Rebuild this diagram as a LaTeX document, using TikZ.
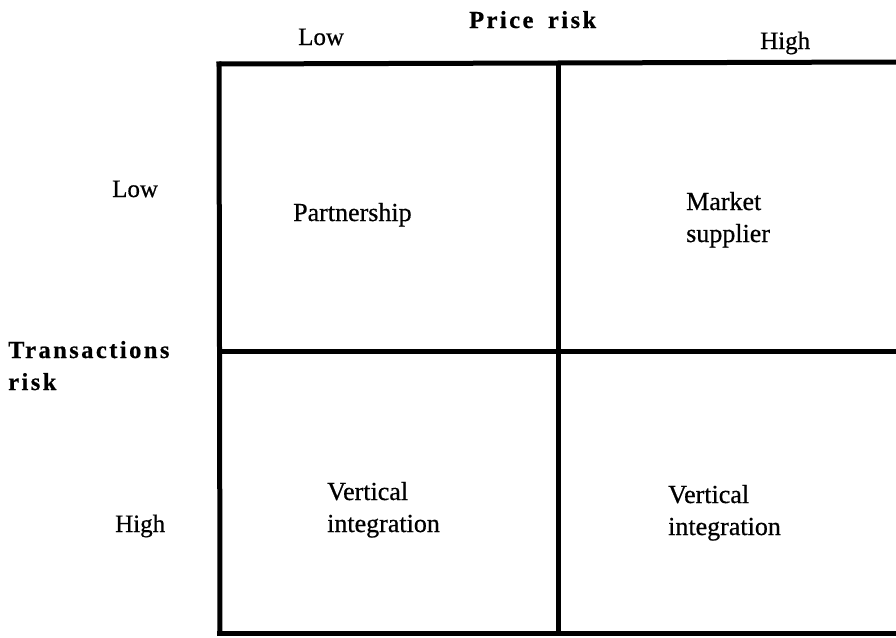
\documentclass[tikz,border=0pt]{standalone}
\usepackage{fontspec}
\setmainfont{Liberation Serif}[FakeBold=0.6]
\newfontfamily\spacedbold[LetterSpace=10,FakeBold=0.6]{Liberation Serif Bold}
\begin{document}
\begin{tikzpicture}[x=1pt,y=-1pt,
  gridline/.style={line width=5pt,line cap=rect},
  lbl/.style={inner sep=0pt,anchor=base west,font=\fontsize{25}{30}\selectfont},
  celltxt/.style={inner sep=0pt,anchor=base west,font=\fontsize{26}{32}\selectfont},
  axis/.style={inner sep=0pt,anchor=base west,font=\fontsize{24.5}{32}\spacedbold}]
\useasboundingbox (0,0) rectangle (896,637);
% grid
\draw[gridline] (219,64) -- (896,62);
\draw[gridline] (219,351) -- (896,351);
\draw[gridline] (219,633) -- (896,633);
\draw[gridline] (219,64) -- (220,633);
\draw[gridline] (558,63) -- (558,633);
% axis titles
\node[axis] (price) at (469,28) {Price\hspace{6pt} risk};
\node[axis] (trans) at (8,358) {Transactions};
\node[axis] (trans2) at (8,390) {risk};
% column labels
\node[lbl] (colLow) at (298,45) {Low};
\node[lbl] (colHigh) at (760,49) {High};
% row labels
\node[lbl] (rowLow) at (112,197) {Low};
\node[lbl] (rowHigh) at (115,532) {High};
% cells
\node[celltxt] (partner) at (293,221) {Partnership};
\node[celltxt] (market) at (686,210) {Market};
\node[celltxt] (supplier) at (686,242) {supplier};
\node[celltxt] (vi1a) at (327,500) {Vertical};
\node[celltxt] (vi1b) at (327,532) {integration};
\node[celltxt] (vi2a) at (668,503) {Vertical};
\node[celltxt] (vi2b) at (668,535) {integration};
\end{tikzpicture}
\end{document}
